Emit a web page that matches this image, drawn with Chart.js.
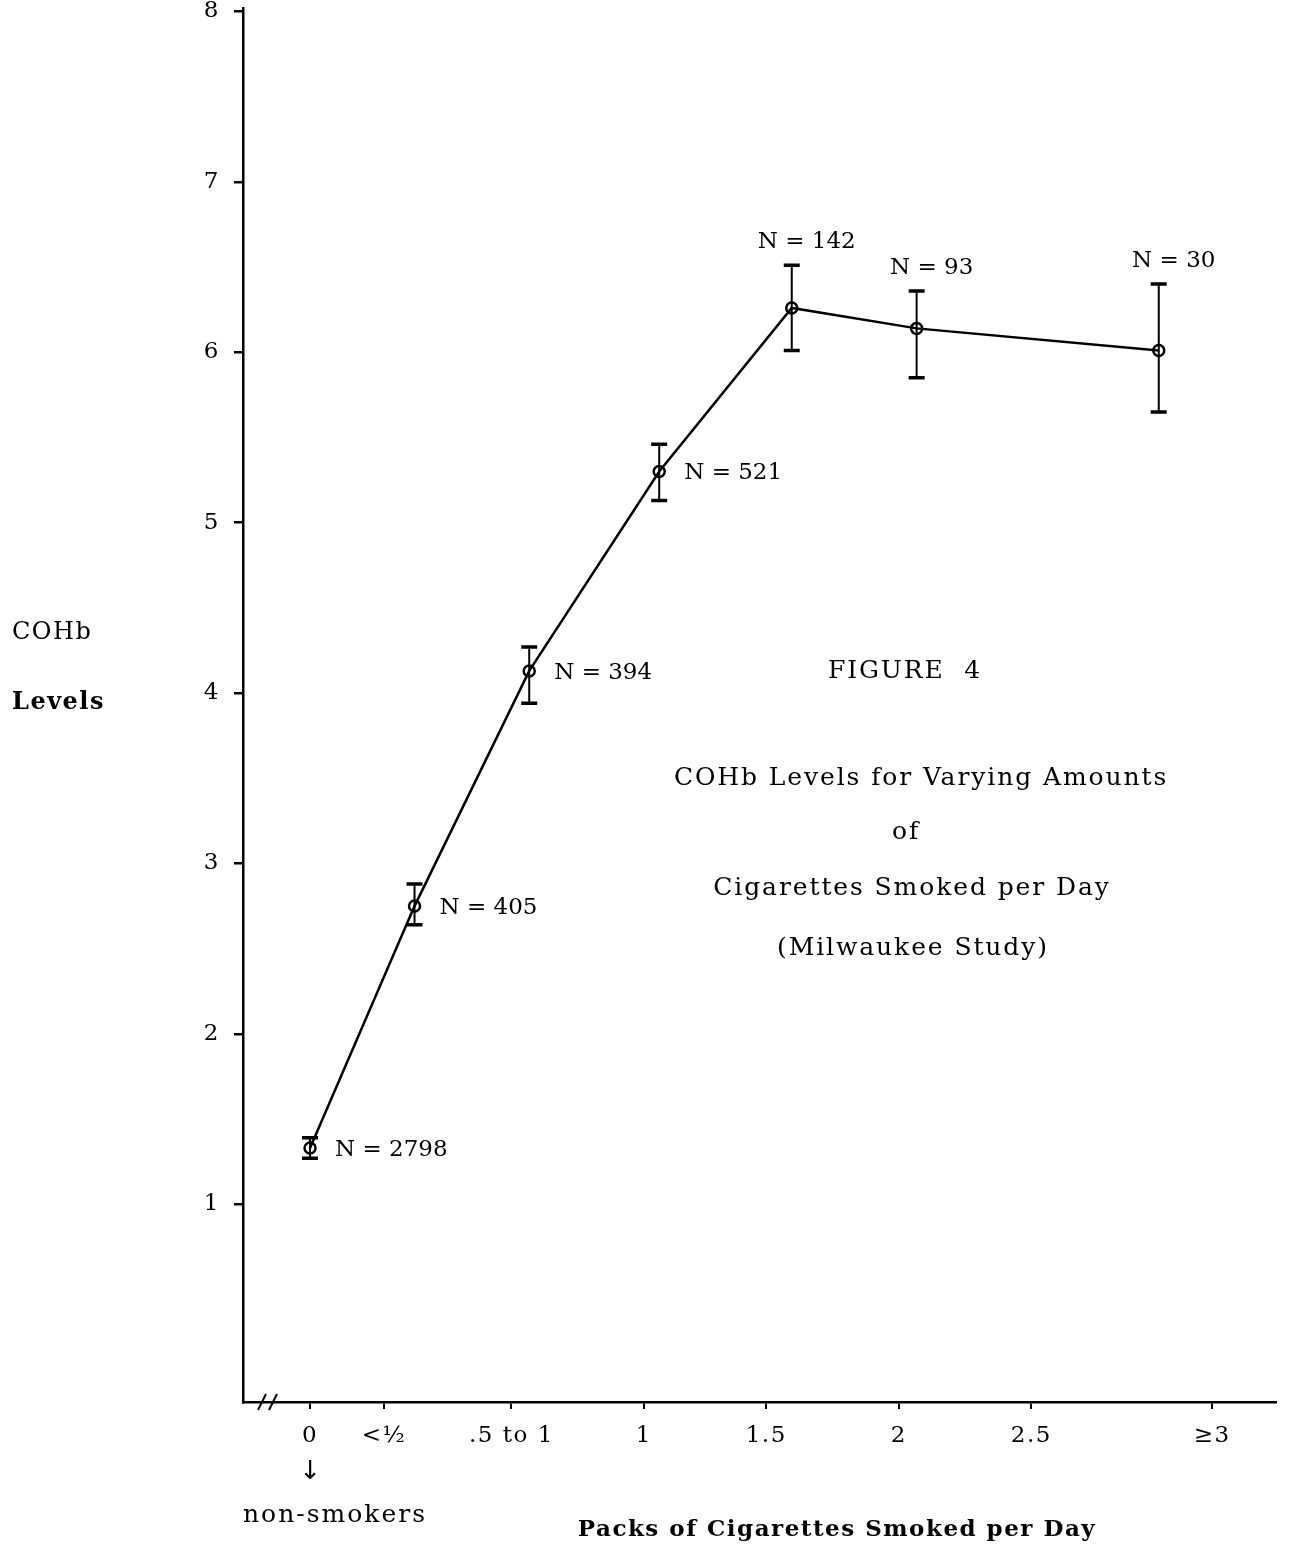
<!DOCTYPE html>
<html>
<head>
<meta charset="utf-8">
<script src="https://cdn.jsdelivr.net/npm/chart.js@4.4.0/dist/chart.umd.min.js"></script>
<style>
    html, body { margin: 0; padding: 0; background: #fff; }
    #wrap { width: 1290px; height: 1554px; position: relative; }
</style>
</head>
<body>
<div id="wrap"><canvas id="cohbChart"></canvas></div>
<script>
// x positions are measured along the drawn axis (the axis is not to scale)
const groupLabels = ['0', '<½', '.5 to 1', '1', '1.5', '2', '2.5', '≥3'];
const groupTickPos = [0, 0.29, 0.79, 1.31, 1.79, 2.31, 2.83, 3.54];
const pointPos = [0, 0.41, 0.86, 1.37, 1.89, 2.38, 3.33];
const cohbMean = [1.33, 2.75, 4.13, 5.30, 6.26, 6.14, 6.01];
const cohbHigh = [1.39, 2.88, 4.27, 5.46, 6.51, 6.36, 6.40];
const cohbLow = [1.27, 2.64, 3.94, 5.13, 6.01, 5.85, 5.65];
const sampleSizes = ['N = 2798', 'N = 405', 'N = 394', 'N = 521', 'N = 142', 'N = 93', 'N = 30'];
const yTicks = [1, 2, 3, 4, 5, 6, 7, 8];

const labelSide = ['right', 'right', 'right', 'right', 'above', 'above', 'above'];
const FONT = '"DejaVu Serif", "Liberation Serif", serif';

// typewriter look: wide letter spacing for the tick labels
const spacing = {
    id: 'spacing',
    beforeDraw(chart) {
        chart.ctx.letterSpacing = '1.5px';
    }
};

const errorBars = {
    id: 'errorBars',
    afterDatasetsDraw(chart) {
        const ctx = chart.ctx;
        const xs = chart.scales.x;
        const ys = chart.scales.y;
        ctx.save();
        ctx.strokeStyle = '#000';
        pointPos.forEach((p, i) => {
            const x = xs.getPixelForValue(p);
            const top = ys.getPixelForValue(cohbHigh[i]);
            const bot = ys.getPixelForValue(cohbLow[i]);
            ctx.lineWidth = 2;
            ctx.beginPath();
            ctx.moveTo(x, top); ctx.lineTo(x, bot);
            ctx.stroke();
            ctx.lineWidth = 3.5;
            ctx.beginPath();
            ctx.moveTo(x - 8, top); ctx.lineTo(x + 8, top);
            ctx.moveTo(x - 8, bot); ctx.lineTo(x + 8, bot);
            ctx.stroke();
        });
        ctx.restore();
    }
};

const annotations = {
    id: 'annotations',
    afterDraw(chart) {
        const ctx = chart.ctx;
        const xs = chart.scales.x;
        const ys = chart.scales.y;
        const area = chart.chartArea;
        ctx.save();
        ctx.fillStyle = '#000';
        ctx.textBaseline = 'middle';

        // sample sizes
        ctx.letterSpacing = '0px';
        ctx.font = '23px ' + FONT;
        pointPos.forEach((p, i) => {
            const x = xs.getPixelForValue(p);
            if (labelSide[i] === 'right') {
                ctx.textAlign = 'left';
                ctx.fillText(sampleSizes[i], x + 25, ys.getPixelForValue(cohbMean[i]) + 2);
            } else {
                ctx.textAlign = 'center';
                ctx.fillText(sampleSizes[i], x + 15, ys.getPixelForValue(cohbHigh[i]) - 23);
            }
        });

        // figure caption
        ctx.textAlign = 'center';
        ctx.letterSpacing = '1.9px';
        ctx.font = '25px ' + FONT;
        ctx.fillText('FIGURE  4', 905, 671);
        ctx.fillText('COHb Levels for Varying Amounts', 921, 778);
        ctx.fillText('of', 906, 832);
        ctx.fillText('Cigarettes Smoked per Day', 912, 888);
        ctx.fillText('(Milwaukee Study)', 913, 948);

        // y-axis title
        ctx.textAlign = 'left';
        ctx.letterSpacing = '1.5px';
        ctx.font = '24px ' + FONT;
        ctx.fillText('COHb', 12, 633);
        ctx.font = 'bold 24px ' + FONT;
        ctx.fillText('Levels', 12, 703);

        // non-smoker note under the 0 tick
        const x0 = xs.getPixelForValue(groupTickPos[0]);
        ctx.letterSpacing = '0px';
        ctx.textAlign = 'center';
        ctx.font = '26px "DejaVu Sans", sans-serif';
        ctx.fillText('↓', x0, 1472);
        ctx.textAlign = 'left';
        ctx.letterSpacing = '2px';
        ctx.font = '25px ' + FONT;
        ctx.fillText('non-smokers', area.left, 1515);

        // x-axis title
        ctx.textAlign = 'center';
        ctx.letterSpacing = '1.5px';
        ctx.font = 'bold 23px ' + FONT;
        ctx.fillText('Packs of Cigarettes Smoked per Day', 837, 1530);

        // axis break marks
        ctx.strokeStyle = '#000';
        ctx.lineWidth = 2;
        const yb = area.bottom;
        [19, 30].forEach(dx => {
            ctx.beginPath();
            ctx.moveTo(area.left + dx - 4, yb + 8);
            ctx.lineTo(area.left + dx + 4, yb - 8);
            ctx.stroke();
        });
        ctx.restore();
    }
};

const ctx = document.getElementById('cohbChart').getContext('2d');
new Chart(ctx, {
    type: 'line',
    data: {
        datasets: [{
            data: pointPos.map((p, i) => ({ x: p, y: cohbMean[i] })),
            borderColor: '#000',
            borderWidth: 2.5,
            pointRadius: 5.5,
            pointBorderWidth: 2.5,
            pointBorderColor: '#000',
            pointBackgroundColor: 'rgba(255,255,255,0)',
            tension: 0,
            fill: false
        }]
    },
    options: {
        responsive: true,
        maintainAspectRatio: false,
        animation: false,
        layout: {
            padding: { top: 8, right: 14, left: 0, bottom: 0 }
        },
        plugins: {
            legend: { display: false },
            tooltip: { enabled: false }
        },
        scales: {
            x: {
                type: 'linear',
                min: -0.263,
                max: 3.79,
                afterBuildTicks: scale => {
                    scale.ticks = groupTickPos.map(v => ({ value: v }));
                },
                afterFit: scale => {
                    scale.height = 152;
                    scale.paddingLeft = 0;
                    scale.paddingRight = 0;
                },
                ticks: {
                    autoSkip: false,
                    maxRotation: 0,
                    padding: 13,
                    color: '#000',
                    font: { family: FONT, size: 23 },
                    callback: (value, index) => groupLabels[index]
                },
                grid: {
                    drawOnChartArea: false,
                    drawTicks: true,
                    tickLength: 7,
                    color: '#000',
                    lineWidth: 2
                },
                border: { display: true, color: '#000', width: 2.5 }
            },
            y: {
                type: 'linear',
                min: -0.16,
                max: 8.02,
                afterBuildTicks: scale => {
                    scale.ticks = yTicks.map(v => ({ value: v }));
                },
                afterFit: scale => {
                    scale.width = 243;
                    scale.paddingTop = 0;
                    scale.paddingBottom = 0;
                },
                ticks: {
                    padding: 14,
                    color: '#000',
                    font: { family: FONT, size: 23 }
                },
                grid: {
                    drawOnChartArea: false,
                    drawTicks: true,
                    tickLength: 9,
                    color: '#000',
                    lineWidth: 2.5
                },
                border: { display: true, color: '#000', width: 2.5 }
            }
        }
    },
    plugins: [spacing, errorBars, annotations]
});
</script>
</body>
</html>
